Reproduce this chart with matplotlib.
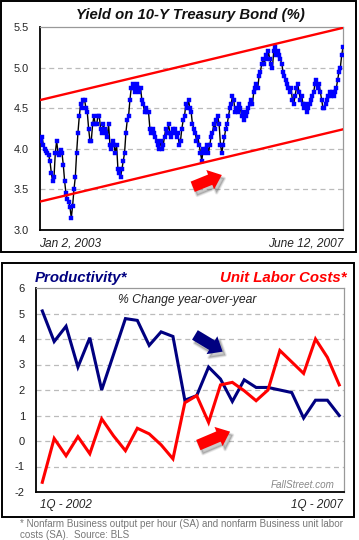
import numpy as np
import matplotlib
matplotlib.use('Agg')
import matplotlib.pyplot as plt
from matplotlib.patches import Rectangle, FancyArrowPatch

plt.rcParams['font.family'] = ['Liberation Sans', 'DejaVu Sans']

W, H = 359, 540

# 10-year treasury yield (Jan 2, 2003 -> June 12, 2007)
yield_10y = [
    4.10, 4.15, 4.05, 4.00, 3.97, 3.95, 3.92, 3.85, 3.70, 3.60, 3.65, 3.95, 4.10, 3.95,
    3.92, 3.98, 3.95, 3.80, 3.60, 3.45, 3.38, 3.35, 3.28, 3.15, 3.30, 3.50, 3.65, 3.95,
    4.20, 4.40, 4.55, 4.50, 4.60, 4.60, 4.50, 4.45, 4.25, 4.10, 4.10, 4.30, 4.40, 4.30,
    4.30, 4.40, 4.40, 4.25,
    4.20, 4.30, 4.25, 4.20, 4.15, 4.30, 4.05, 4.00, 4.10, 4.05, 3.95, 4.05, 3.75, 3.70,
    3.65, 3.75, 3.85, 3.95, 4.20, 4.35, 4.40, 4.60, 4.75, 4.80, 4.75, 4.70, 4.80, 4.75,
    4.70, 4.75, 4.60, 4.55, 4.45, 4.50, 4.45, 4.45, 4.25, 4.20, 4.25, 4.20, 4.15, 4.10,
    4.05, 4.00,
    4.10, 4.00, 4.05, 4.15, 4.25, 4.20, 4.30, 4.20, 4.15, 4.25, 4.20, 4.25, 4.15, 4.20,
    4.05, 4.10, 4.25, 4.35, 4.40, 4.55, 4.50, 4.60, 4.50, 4.45, 4.30, 4.25, 4.20, 4.10,
    4.15, 4.05, 3.95, 3.85, 4.00, 3.95, 4.00, 4.05, 3.95, 4.05, 4.15, 4.20, 4.30, 4.25,
    4.35, 4.40, 4.30,
    4.05, 3.95, 4.05, 4.15, 4.25, 4.30, 4.40, 4.50, 4.55, 4.65, 4.60, 4.45, 4.50, 4.45,
    4.55, 4.50, 4.40, 4.45, 4.35, 4.40, 4.45, 4.50, 4.55, 4.60, 4.55, 4.70, 4.75, 4.80,
    4.75, 4.90, 4.95, 5.05, 5.10, 5.05, 5.15, 5.10, 5.20, 5.10, 5.05, 5.00, 5.20, 5.25,
    5.15, 5.20,
    5.15, 5.10, 5.05, 4.95, 4.90, 4.85, 4.80, 4.75, 4.70, 4.75, 4.60, 4.55, 4.65, 4.75,
    4.80, 4.70, 4.60, 4.65, 4.55, 4.50, 4.55, 4.45, 4.50, 4.55, 4.60, 4.65, 4.70, 4.80,
    4.85, 4.75, 4.80, 4.70, 4.60, 4.50, 4.50, 4.55, 4.60, 4.65, 4.70, 4.65, 4.70, 4.65,
    4.70, 4.75, 4.85, 4.95, 5.00, 5.15, 5.25,
]
channel_upper = [4.60, 5.49]
channel_lower = [3.35, 4.24]
yield_ticks = [3.0, 3.5, 4.0, 4.5, 5.0, 5.5]

# % change year-over-year, 1Q-2002 .. 1Q-2007
productivity = [5.1, 3.9, 4.5, 2.9, 4.05, 2.0, 3.4, 4.8, 4.73, 3.75, 4.28, 4.1, 1.6,
                1.78, 2.9, 2.43, 1.55, 2.4, 2.1, 2.1, 2.0, 1.9, 0.9, 1.6, 1.6, 1.0]
unit_labor_costs = [-1.62, 0.1, -0.58, 0.17, -0.5, 0.87, 0.2, -0.38, 0.5, 0.28, -0.15,
                    -0.7, 1.5, 1.78, 0.73, 2.2, 2.3, 1.97, 1.58, 2.0, 3.55, 3.1, 2.65,
                    4.0, 3.28, 2.2]
pct_ticks = [-2, -1, 0, 1, 2, 3, 4, 5, 6]

NAVY = '#000080'
RED = '#ff0000'
BLUE = '#0000ff'


def rect(l, t, r, b):
    # pixel box -> figure fraction
    return [l / W, 1 - b / H, (r - l) / W, (b - t) / H]


def fx(px):
    return px / W


def fy(py):
    return 1 - py / H


def style_axes(ax, ticks, fmt, fs):
    ax.set_yticks(ticks)
    ax.set_yticklabels([fmt.format(t) for t in ticks], fontsize=fs, color='#222222')
    ax.set_xticks([])
    ax.tick_params(axis='y', length=0, pad=8)
    for t in ticks[1:-1]:
        ax.axhline(t, color='#bbbbbb', lw=0.9, ls=(0, (4, 3)), zorder=0)
    ax.spines['left'].set_color('black')
    ax.spines['bottom'].set_color('black')
    ax.spines['left'].set_linewidth(1.3)
    ax.spines['bottom'].set_linewidth(1.3)
    ax.spines['top'].set_color('#999999')
    ax.spines['right'].set_color('#999999')
    ax.spines['top'].set_linewidth(0.9)
    ax.spines['right'].set_linewidth(0.9)


def block_arrow(ax, start, end, color):
    style = 'simple,head_length=9,head_width=15,tail_width=8'
    for k, a in [(2.5, 0.12), (1.2, 0.2)]:
        sh = FancyArrowPatch(start, end, arrowstyle=style,
                             mutation_scale=1, shrinkA=0, shrinkB=0, color='#555555',
                             alpha=a, lw=k, zorder=4, clip_on=False)
        sh.set_transform(ax.transAxes + matplotlib.transforms.ScaledTranslation(
            2.5 / 100, -3.5 / 100, ax.figure.dpi_scale_trans))
        ax.add_patch(sh)
    ar = FancyArrowPatch(start, end, transform=ax.transAxes, arrowstyle=style,
                         mutation_scale=1, shrinkA=0, shrinkB=0, color=color,
                         lw=0, zorder=5, clip_on=False)
    ax.add_patch(ar)


fig = plt.figure(figsize=(W / 100, H / 100), dpi=100)
fig.patch.set_facecolor('white')

# outer boxes
fig.patches.append(Rectangle((fx(1), fy(252)), (356 - 1) / W, (252 - 1) / H,
                             transform=fig.transFigure, fill=False, ec='black', lw=1.4))
fig.patches.append(Rectangle((fx(2), fy(517)), (354 - 2) / W, (517 - 263) / H,
                             transform=fig.transFigure, fill=False, ec='black', lw=1.4))

# ---- top: 10-year yield ----
ax1 = fig.add_axes(rect(40, 27, 343, 230))
n = len(yield_10y)
x = np.arange(n)
ax1.plot(x, yield_10y, color='black', lw=1.0, zorder=2)
ax1.plot(x, yield_10y, ls='none', marker='s', ms=2.5, mfc=BLUE, mec=BLUE, mew=0.3,
         zorder=3)
ax1.plot([-0.5, n - 1], channel_upper, color=RED, lw=1.7, zorder=4)
ax1.plot([-0.5, n - 1], channel_lower, color=RED, lw=1.7, zorder=4)
ax1.set_xlim(-0.5, n - 1)
ax1.set_ylim(3.0, 5.5)
style_axes(ax1, yield_ticks, '{:.1f}', 7.8)
block_arrow(ax1, (0.504, 0.213), (0.600, 0.271), RED)

fig.text(fx(190), fy(15), 'Yield on 10-Y Treasury Bond (%)', ha='center', va='center',
         fontsize=10.7, fontweight='bold', fontstyle='italic', color='#111111')
fig.text(fx(39), fy(243), 'Jan 2, 2003', ha='left', va='center', fontsize=8.6,
         fontstyle='italic', color='#222222')
fig.text(fx(343), fy(243), 'June 12, 2007', ha='right', va='center', fontsize=8.6,
         fontstyle='italic', color='#222222')

# ---- bottom: productivity vs unit labor costs ----
ax2 = fig.add_axes(rect(36, 288, 344, 492))
q = np.arange(len(productivity))
ax2.plot(q, productivity, color=NAVY, lw=2.2, zorder=3, solid_joinstyle='miter')
ax2.plot(q, unit_labor_costs, color=RED, lw=2.2, zorder=3, solid_joinstyle='miter')
ax2.set_xlim(-0.53, 25.4)
ax2.set_ylim(-2, 6)
style_axes(ax2, pct_ticks, '{:d}', 8)
block_arrow(ax2, (0.516, 0.770), (0.606, 0.688), NAVY)
block_arrow(ax2, (0.527, 0.230), (0.630, 0.296), RED)

ax2.text(0.49, 0.94, '% Change year-over-year', transform=ax2.transAxes, ha='center',
         va='center', fontsize=8.7, fontstyle='italic', color='#222222')
ax2.text(0.97, 0.035, 'FallStreet.com', transform=ax2.transAxes, ha='right',
         va='center', fontsize=7.1, fontstyle='italic', color='#888888')

fig.text(fx(35), fy(278), 'Productivity*', ha='left', va='center', fontsize=10.8,
         fontweight='bold', fontstyle='italic', color=NAVY)
fig.text(fx(347), fy(278), 'Unit Labor Costs*', ha='right', va='center', fontsize=10.8,
         fontweight='bold', fontstyle='italic', color=RED)
fig.text(fx(40), fy(505), '1Q - 2002', ha='left', va='center', fontsize=8.4,
         fontstyle='italic', color='#222222')
fig.text(fx(343), fy(505), '1Q - 2007', ha='right', va='center', fontsize=8.4,
         fontstyle='italic', color='#222222')

fig.text(fx(20), fy(524), '* Nonfarm Business output per hour (SA) and nonfarm Business unit labor',
         ha='left', va='center', fontsize=7.1, color='#777777')
fig.text(fx(20), fy(534.5), 'costs (SA).  Source: BLS', ha='left', va='center',
         fontsize=7.1, color='#777777')

fig.savefig('out.png', dpi=100)
